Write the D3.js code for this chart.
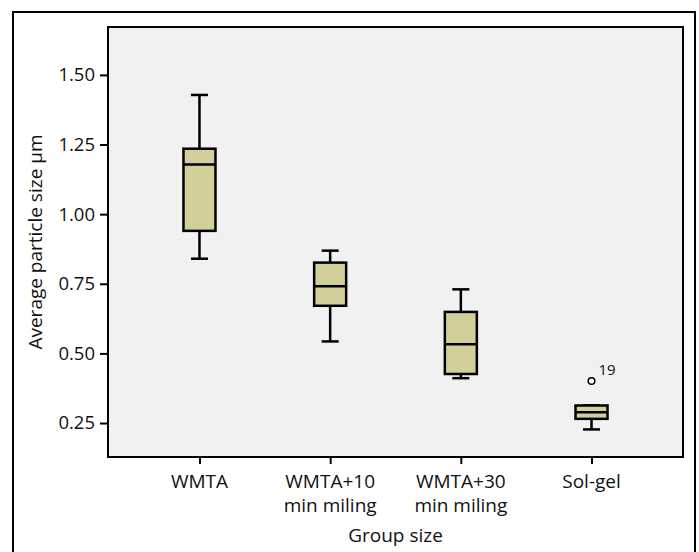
<!DOCTYPE html>
<html>
<head>
<meta charset="utf-8">
<script src="https://cdn.jsdelivr.net/npm/d3@7"></script>
<style>
body { margin: 0; background: #fff; }
svg { display: block; }
text { font-family: "Open Sans", sans-serif; fill: #111; }
</style>
</head>
<body>
<svg id="svg"></svg>
<script>
var width = 699, height = 552;

var groups = ["WMTA", "WMTA+10\nmin miling", "WMTA+30\nmin miling", "Sol-gel"];
var whiskLow = [0.84, 0.543, 0.411, 0.227];
var q1 = [0.94, 0.671, 0.426, 0.265];
var median = [1.178, 0.741, 0.533, 0.289];
var q3 = [1.235, 0.826, 0.649, 0.313];
var whiskHigh = [1.428, 0.869, 0.730, 0.313];
var outlierGroup = ["Sol-gel"];
var outlierValue = [0.401];
var outlierLabel = ["19"];
var yTicks = [0.25, 0.50, 0.75, 1.00, 1.25, 1.50];

var svg = d3.select("#svg")
	.attr("width", width)
	.attr("height", height);

var plotL = 108, plotR = 683, plotT = 27, plotB = 457;

// outer frame
svg.append("rect")
	.attr("x", 13).attr("y", 12)
	.attr("width", 682).attr("height", 560)
	.attr("fill", "none")
	.attr("stroke", "#000")
	.attr("stroke-width", 2);

svg.append("rect")
	.attr("x", plotL).attr("y", plotT)
	.attr("width", plotR - plotL).attr("height", plotB - plotT)
	.attr("fill", "#f1f1f1")
	.attr("stroke", "#000")
	.attr("stroke-width", 2);

var x = d3.scalePoint()
	.domain(groups)
	.range([plotL, plotR])
	.padding(0.7);

var y = d3.scaleLinear()
	.domain([0.128, 1.672])
	.range([plotB, plotT]);

var yAxis = d3.axisLeft(y)
	.tickValues(yTicks)
	.tickFormat(d3.format(".2f"))
	.tickSize(8)
	.tickPadding(5);

var gy = svg.append("g")
	.attr("transform", "translate(" + plotL + ",0)")
	.call(yAxis);
gy.select(".domain").remove();
gy.selectAll(".tick line").attr("stroke", "#000").attr("stroke-width", 2);
gy.selectAll(".tick text").attr("font-size", "18.5px").attr("fill", "#111")
	.attr("font-family", "Open Sans");

var xAxis = d3.axisBottom(x)
	.tickSize(7)
	.tickFormat("");

var gx = svg.append("g")
	.attr("transform", "translate(0," + plotB + ")")
	.call(xAxis);
gx.select(".domain").remove();
gx.selectAll(".tick line").attr("stroke", "#000").attr("stroke-width", 2);

// multi-line category labels
groups.forEach(function(g) {
	var lines = g.split("\n");
	var t = svg.append("text")
		.attr("text-anchor", "middle")
		.attr("font-size", "19px")
		.attr("x", x(g))
		.attr("y", plotB + 31);
	lines.forEach(function(l, i) {
		t.append("tspan")
			.attr("x", x(g))
			.attr("dy", i == 0 ? 0 : 24)
			.text(l);
	});
});

var boxW = 32, capW = 17;

for (var i = 0; i < groups.length; i++)
{
	var cx = x(groups[i]);
	svg.append("line")
		.attr("x1", cx).attr("x2", cx)
		.attr("y1", y(whiskHigh[i])).attr("y2", y(whiskLow[i]))
		.attr("stroke", "#000").attr("stroke-width", 2.5);
	[whiskHigh[i], whiskLow[i]].forEach(function(v) {
		svg.append("line")
			.attr("x1", cx - capW / 2).attr("x2", cx + capW / 2)
			.attr("y1", y(v)).attr("y2", y(v))
			.attr("stroke", "#000").attr("stroke-width", 2.5);
	});
	svg.append("rect")
		.attr("x", cx - boxW / 2)
		.attr("y", y(q3[i]))
		.attr("width", boxW)
		.attr("height", y(q1[i]) - y(q3[i]))
		.attr("fill", "#d3cf9a")
		.attr("stroke", "#000")
		.attr("stroke-width", 2.5);
	svg.append("line")
		.attr("x1", cx - boxW / 2).attr("x2", cx + boxW / 2)
		.attr("y1", y(median[i])).attr("y2", y(median[i]))
		.attr("stroke", "#000").attr("stroke-width", 2.5);
}

for (var j = 0; j < outlierGroup.length; j++)
{
	svg.append("circle")
		.attr("cx", x(outlierGroup[j]))
		.attr("cy", y(outlierValue[j]))
		.attr("r", 3.3)
		.attr("fill", "#fff")
		.attr("stroke", "#000")
		.attr("stroke-width", 1.5);
	svg.append("text")
		.attr("x", x(outlierGroup[j]) + 7)
		.attr("y", y(outlierValue[j]) - 6)
		.attr("font-size", "15px")
		.text(outlierLabel[j]);
}

svg.append("text")
	.attr("text-anchor", "middle")
	.attr("font-size", "19px")
	.attr("x", (plotL + plotR) / 2)
	.attr("y", 542)
	.text("Group size");

svg.append("text")
	.attr("text-anchor", "middle")
	.attr("font-size", "19px")
	.attr("transform", "translate(42," + ((plotT + plotB) / 2) + ") rotate(-90)")
	.text("Average particle size µm");
</script>
</body>
</html>
